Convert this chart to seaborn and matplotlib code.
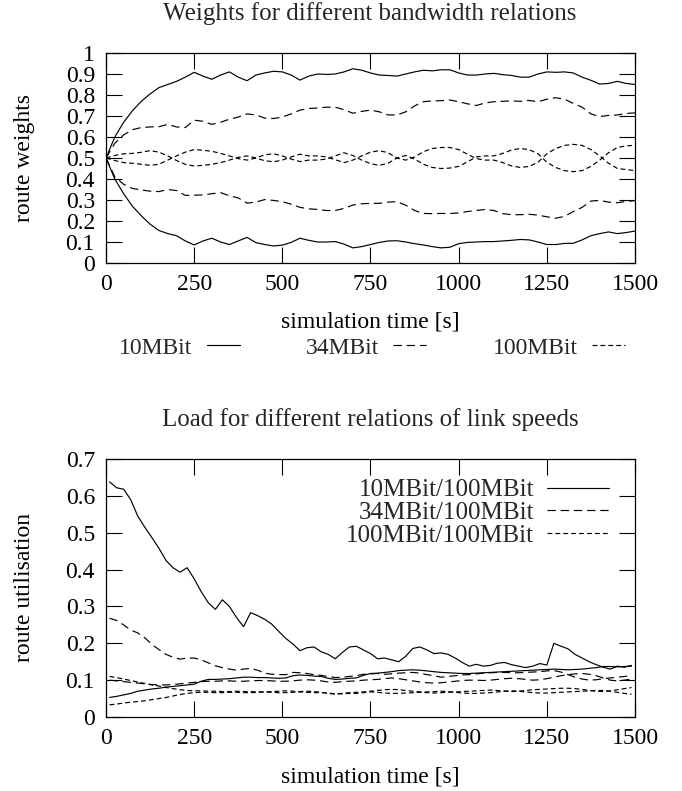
import numpy as np
import pandas as pd
import matplotlib
matplotlib.use('Agg')
import matplotlib.pyplot as plt
import seaborn as sns
from matplotlib.lines import Line2D
from matplotlib.ticker import FuncFormatter

# top chart: route weights, sampled every 25 s
t_top = np.arange(0, 1501, 25)

w10_hi = [0.5, 0.6, 0.67, 0.725, 0.77, 0.805, 0.835, 0.85, 0.865, 0.885, 0.908, 0.89, 0.875, 0.895, 0.91,
          0.885, 0.868, 0.895, 0.905, 0.913, 0.91, 0.895, 0.871, 0.89, 0.9, 0.898, 0.9, 0.91, 0.925, 0.918,
          0.905, 0.895, 0.893, 0.89, 0.9, 0.91, 0.918, 0.915, 0.92, 0.92, 0.905, 0.895, 0.895, 0.9, 0.903,
          0.897, 0.893, 0.885, 0.885, 0.9, 0.91, 0.908, 0.91, 0.905, 0.885, 0.87, 0.852, 0.855, 0.865, 0.855, 0.85]
w10_lo = [0.5, 0.4, 0.33, 0.27, 0.225, 0.185, 0.155, 0.14, 0.13, 0.105, 0.086, 0.105, 0.118, 0.1, 0.088,
          0.105, 0.122, 0.097, 0.088, 0.081, 0.085, 0.098, 0.118, 0.108, 0.1, 0.1, 0.102, 0.09, 0.072, 0.078,
          0.088, 0.098, 0.105, 0.106, 0.1, 0.092, 0.086, 0.078, 0.072, 0.075, 0.092, 0.098, 0.1, 0.102, 0.102,
          0.105, 0.108, 0.112, 0.11, 0.1, 0.088, 0.088, 0.093, 0.094, 0.11, 0.13, 0.14, 0.148, 0.14, 0.145, 0.152]
w34_hi = [0.5, 0.57, 0.61, 0.635, 0.645, 0.648, 0.649, 0.66, 0.648, 0.645, 0.68, 0.675, 0.66, 0.67, 0.685,
          0.695, 0.71, 0.705, 0.69, 0.688, 0.695, 0.71, 0.728, 0.736, 0.738, 0.742, 0.742, 0.73, 0.713, 0.722,
          0.728, 0.72, 0.705, 0.705, 0.72, 0.748, 0.768, 0.772, 0.773, 0.776, 0.768, 0.758, 0.75, 0.762, 0.768,
          0.77, 0.772, 0.77, 0.774, 0.768, 0.78, 0.787, 0.78, 0.76, 0.742, 0.71, 0.697, 0.703, 0.705, 0.712, 0.715]
w34_lo = [0.5, 0.41, 0.375, 0.355, 0.348, 0.342, 0.34, 0.35, 0.345, 0.322, 0.323, 0.324, 0.33, 0.335, 0.32,
          0.31, 0.285, 0.29, 0.302, 0.298, 0.292, 0.28, 0.265, 0.258, 0.255, 0.25, 0.25, 0.26, 0.276, 0.282,
          0.284, 0.284, 0.29, 0.292, 0.275, 0.25, 0.236, 0.235, 0.236, 0.236, 0.238, 0.245, 0.25, 0.255, 0.25,
          0.235, 0.23, 0.23, 0.232, 0.228, 0.22, 0.213, 0.222, 0.245, 0.265, 0.295, 0.298, 0.29, 0.287, 0.293, 0.297]
w100_a = [0.5, 0.512, 0.52, 0.522, 0.527, 0.535, 0.528, 0.51, 0.488, 0.47, 0.462, 0.465, 0.47, 0.478, 0.49,
          0.503, 0.51, 0.5, 0.487, 0.482, 0.49, 0.505, 0.518, 0.51, 0.51, 0.505, 0.492, 0.478, 0.49, 0.51,
          0.528, 0.535, 0.525, 0.5, 0.49, 0.505, 0.53, 0.545, 0.55, 0.55, 0.54, 0.518, 0.497, 0.49, 0.49,
          0.478, 0.462, 0.455, 0.46, 0.48, 0.52, 0.545, 0.56, 0.565, 0.56, 0.54, 0.51, 0.475, 0.45, 0.445, 0.44]
w100_b = [0.5, 0.488, 0.478, 0.475, 0.47, 0.465, 0.47, 0.49, 0.51, 0.528, 0.54, 0.537, 0.532, 0.522, 0.51,
          0.497, 0.49, 0.5, 0.515, 0.52, 0.51, 0.495, 0.483, 0.49, 0.49, 0.495, 0.51, 0.525, 0.512, 0.49,
          0.473, 0.465, 0.475, 0.5, 0.512, 0.495, 0.47, 0.455, 0.45, 0.452, 0.46, 0.482, 0.505, 0.51, 0.51,
          0.522, 0.538, 0.545, 0.54, 0.52, 0.48, 0.455, 0.44, 0.435, 0.44, 0.46, 0.49, 0.525, 0.55, 0.558, 0.56]

# bottom chart: route utilisation, sampled every 20 s
t_bot = np.arange(10, 1491, 20)

u10_hi = [0.638, 0.622, 0.618, 0.59, 0.545, 0.515, 0.487, 0.458, 0.425, 0.405, 0.393, 0.405, 0.375, 0.34, 0.31,
          0.292, 0.318, 0.3, 0.27, 0.245, 0.283, 0.275, 0.265, 0.252, 0.232, 0.213, 0.198, 0.18, 0.188, 0.19,
          0.177, 0.17, 0.158, 0.175, 0.19, 0.192, 0.182, 0.172, 0.158, 0.16, 0.155, 0.15, 0.165, 0.186, 0.19,
          0.182, 0.172, 0.174, 0.17, 0.16, 0.148, 0.138, 0.143, 0.138, 0.14, 0.146, 0.148, 0.142, 0.138, 0.134,
          0.138, 0.145, 0.141, 0.2, 0.192, 0.185, 0.17, 0.16, 0.15, 0.142, 0.135, 0.13, 0.138, 0.135, 0.14]
u10_lo = [0.053, 0.056, 0.06, 0.064, 0.07, 0.073, 0.076, 0.078, 0.081, 0.083, 0.085, 0.087, 0.089, 0.097, 0.102,
          0.102, 0.103, 0.104, 0.106, 0.108, 0.108, 0.107, 0.107, 0.106, 0.105, 0.106, 0.112, 0.114, 0.113, 0.111,
          0.11, 0.105, 0.102, 0.103, 0.105, 0.106, 0.113, 0.118, 0.119, 0.121, 0.123, 0.126, 0.127, 0.128, 0.127,
          0.125, 0.123, 0.121, 0.12, 0.119, 0.118, 0.118, 0.119, 0.12, 0.121, 0.122, 0.123, 0.124, 0.125, 0.126,
          0.127, 0.128, 0.129, 0.13, 0.129, 0.128, 0.129, 0.13, 0.132, 0.134, 0.137, 0.137, 0.136, 0.137, 0.138]
u34_hi = [0.268, 0.262, 0.25, 0.236, 0.228, 0.215, 0.197, 0.183, 0.17, 0.162, 0.157, 0.16, 0.16, 0.155, 0.147,
          0.139, 0.134, 0.13, 0.127, 0.13, 0.132, 0.127, 0.119, 0.116, 0.115, 0.115, 0.121, 0.12, 0.118, 0.115,
          0.113, 0.11, 0.107, 0.108, 0.11, 0.112, 0.116, 0.117, 0.118, 0.116, 0.117, 0.119, 0.12, 0.121, 0.119,
          0.115, 0.112, 0.108, 0.11, 0.112, 0.114, 0.115, 0.117, 0.119, 0.12, 0.121, 0.121, 0.12, 0.12, 0.121,
          0.122, 0.123, 0.125, 0.126, 0.122, 0.115, 0.108, 0.103, 0.1, 0.101, 0.104, 0.106, 0.108, 0.11, 0.112]
u34_lo = [0.1, 0.098, 0.096, 0.094, 0.092, 0.09, 0.088, 0.087, 0.087, 0.088, 0.09, 0.092, 0.094, 0.096, 0.097,
          0.097, 0.098, 0.098, 0.097, 0.097, 0.098, 0.099, 0.099, 0.098, 0.097, 0.097, 0.098, 0.1, 0.101, 0.1,
          0.098, 0.095, 0.094, 0.096, 0.097, 0.098, 0.1, 0.101, 0.102, 0.104, 0.106, 0.104, 0.101, 0.098, 0.095,
          0.093, 0.092, 0.093, 0.095, 0.097, 0.099, 0.1, 0.1, 0.099, 0.1, 0.102, 0.104, 0.105, 0.104, 0.102,
          0.1, 0.101, 0.104, 0.108, 0.112, 0.115, 0.117, 0.118, 0.116, 0.112, 0.106, 0.1, 0.098, 0.1, 0.103]
u100_a = [0.11, 0.107, 0.103, 0.099, 0.095, 0.091, 0.087, 0.084, 0.08, 0.077, 0.074, 0.072, 0.071, 0.071, 0.07,
          0.07, 0.069, 0.069, 0.07, 0.069, 0.069, 0.068, 0.068, 0.069, 0.07, 0.071, 0.07, 0.068, 0.067, 0.066,
          0.066, 0.065, 0.063, 0.064, 0.066, 0.067, 0.068, 0.07, 0.072, 0.074, 0.075, 0.074, 0.072, 0.07, 0.068,
          0.066, 0.065, 0.066, 0.067, 0.068, 0.069, 0.07, 0.071, 0.072, 0.073, 0.072, 0.07, 0.069, 0.07, 0.072,
          0.074, 0.075, 0.076, 0.077, 0.078, 0.078, 0.077, 0.075, 0.072, 0.07, 0.069, 0.071, 0.074, 0.077, 0.08]
u100_b = [0.033, 0.035, 0.038, 0.04, 0.042, 0.044, 0.047, 0.05, 0.053, 0.057, 0.061, 0.064, 0.066, 0.067, 0.067,
          0.066, 0.066, 0.067, 0.067, 0.066, 0.066, 0.067, 0.068, 0.067, 0.066, 0.066, 0.067, 0.069, 0.07, 0.069,
          0.067, 0.064, 0.062, 0.063, 0.064, 0.064, 0.066, 0.068, 0.067, 0.065, 0.064, 0.064, 0.065, 0.066, 0.067,
          0.068, 0.069, 0.07, 0.069, 0.067, 0.065, 0.064, 0.064, 0.065, 0.066, 0.068, 0.07, 0.071, 0.07, 0.068,
          0.066, 0.065, 0.065, 0.066, 0.067, 0.068, 0.069, 0.07, 0.071, 0.072, 0.072, 0.07, 0.067, 0.064, 0.062]

top_labels = ['10MBit', '34MBit', '100MBit']
bot_labels = ['10MBit/100MBit', '34MBit/100MBit', '100MBit/100MBit']

sns.set_theme(style='ticks')
plt.rcParams['font.family'] = ['Liberation Serif', 'DejaVu Serif']
plt.rcParams['lines.scale_dashes'] = False
FS = 17      # ticks and axis labels
FS_T = 18    # titles and legends

# line styles for the three link types (solid, long dash, short dash)
styles = ['-', (0, (6, 3.5)), (0, (3.5, 2.2))]
LW = 0.85

fig = plt.figure(figsize=(6.82, 7.91), dpi=100)
ax1 = fig.add_axes([106 / 682, 1 - 263 / 791, 529 / 682, 210 / 791])
ax2 = fig.add_axes([106 / 682, 1 - 717 / 791, 529 / 682, 258 / 791])

top = pd.DataFrame({'t': t_top, 'w10_hi': w10_hi, 'w10_lo': w10_lo, 'w34_hi': w34_hi,
                    'w34_lo': w34_lo, 'w100_a': w100_a, 'w100_b': w100_b})
bot = pd.DataFrame({'t': t_bot, 'u10_hi': u10_hi, 'u10_lo': u10_lo, 'u34_hi': u34_hi,
                    'u34_lo': u34_lo, 'u100_a': u100_a, 'u100_b': u100_b})

for cols, ls in zip([('w10_hi', 'w10_lo'), ('w34_hi', 'w34_lo'), ('w100_a', 'w100_b')], styles):
    for c in cols:
        sns.lineplot(data=top, x='t', y=c, ax=ax1, color='black', lw=LW, linestyle=ls)

for cols, ls in zip([('u10_hi', 'u10_lo'), ('u34_hi', 'u34_lo'), ('u100_a', 'u100_b')], styles):
    for c in cols:
        sns.lineplot(data=bot, x='t', y=c, ax=ax2, color='black', lw=LW, linestyle=ls)


def fmt(v, pos):
    s = '%.1f' % v
    return s[:-2] if s.endswith('.0') else s


for ax in (ax1, ax2):
    ax.set_xlim(0, 1500)
    ax.set_xticks(np.arange(0, 1501, 250))
    ax.yaxis.set_major_formatter(FuncFormatter(fmt))
    ax.tick_params(direction='in', length=11.5, width=0.8, color='black', labelsize=FS,
                   top=True, right=True, pad=8, labelcolor='black')
    for sp in ax.spines.values():
        sp.set_linewidth(0.9)
        sp.set_color('black')
    ax.set_xlabel('simulation time [s]', fontsize=FS, color='black')

ax1.set_ylim(0, 1)
ax1.set_yticks(np.arange(0, 1.01, 0.1))
ax1.set_ylabel('route weights', fontsize=FS, color='black')
ax1.yaxis.set_label_coords(-0.135, 0.5)
ax1.xaxis.set_label_coords(0.5, -0.23)

ax2.set_ylim(0, 0.7)
ax2.set_yticks(np.arange(0, 0.71, 0.1))
ax2.set_ylabel('route utilisation', fontsize=FS, color='black')
ax2.yaxis.set_label_coords(-0.135, 0.5)
ax2.xaxis.set_label_coords(0.5, -0.19)

fig.text(370 / 682, 1 - 14 / 791, 'Weights for different bandwidth relations',
         ha='center', va='center', fontsize=FS_T)
fig.text(370 / 682, 1 - 420 / 791, 'Load for different relations of link speeds',
         ha='center', va='center', fontsize=FS_T)

# legend row for the top chart
top_handles = [Line2D([], [], color='black', lw=LW, linestyle=ls) for ls in styles]
fig.legend(top_handles, top_labels, ncol=3, markerfirst=False, frameon=False, fontsize=FS,
           loc='center', bbox_to_anchor=(372 / 682, 1 - 348 / 791), handlelength=1.4,
           handletextpad=0.6, columnspacing=2.8)

# legend inside the bottom chart
bot_handles = [Line2D([], [], color='black', lw=LW, linestyle=ls) for ls in styles]
ax2.legend(bot_handles, bot_labels, markerfirst=False, frameon=False, fontsize=FS_T,
           loc='upper right', bbox_to_anchor=(1 - 16 / 529, 1 - 10 / 258), borderaxespad=0,
           handlelength=2.5, handletextpad=0.5, labelspacing=0.0)

fig.savefig('out.png', dpi=100)
